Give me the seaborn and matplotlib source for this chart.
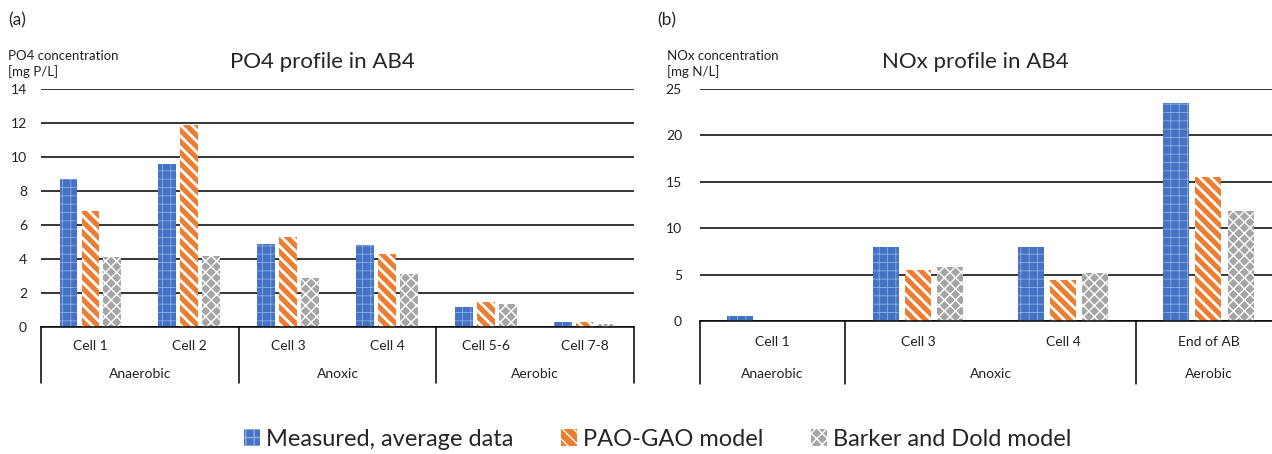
import pandas as pd
import numpy as np
import seaborn as sns
import matplotlib.pyplot as plt
import matplotlib.transforms as mtransforms
from matplotlib.patches import Patch

# Series shared by both panels
series = ['Measured, average data', 'PAO-GAO model', 'Barker and Dold model']
colours = ['#4472C4', '#ED7D31', '#A5A5A5']
hatch_colours = ['#8FAEE3', 'white', 'white']
hatches = ['++', '\\\\\\', 'xxx']
hatch_widths = [0.6, 2.0, 1.0]

# Panel (a): PO4 profile
po4_cells = ['Cell 1', 'Cell 2', 'Cell 3', 'Cell 4', 'Cell 5-6', 'Cell 7-8']
po4_zones = ['Anaerobic', 'Anaerobic', 'Anoxic', 'Anoxic', 'Aerobic', 'Aerobic']
po4_measured = [8.7, 9.6, 4.9, 4.85, 1.15, 0.3]
po4_paogao = [6.8, 11.9, 5.3, 4.3, 1.45, 0.27]
po4_barker = [4.1, 4.15, 2.9, 3.1, 1.35, 0.15]

# Panel (b): NOx profile
nox_cells = ['Cell 1', 'Cell 3', 'Cell 4', 'End of AB']
nox_zones = ['Anaerobic', 'Anoxic', 'Anoxic', 'Aerobic']
nox_measured = [0.5, 8.0, 8.0, 23.5]
nox_paogao = [0.0, 5.5, 4.4, 15.5]
nox_barker = [0.0, 5.85, 5.2, 11.9]

sns.set_style('white')
plt.rcParams['font.family'] = ['Lato', 'DejaVu Sans']
plt.rcParams['hatch.linewidth'] = 1.0

W, H = 1272, 454
fig = plt.figure(figsize=(W / 100, H / 100), dpi=100)


def px_axes(x0, x1, y_top, y_bottom):
    return fig.add_axes([x0 / W, 1 - y_bottom / H, (x1 - x0) / W, (y_bottom - y_top) / H])


def draw_panel(ax, cells, zones, values, ymax, step, sep_px, cell_pad, zone_px, ypad):
    df = pd.DataFrame({
        'cell': np.tile(cells, len(series)),
        'series': np.repeat(series, len(cells)),
        'value': np.concatenate(values),
    })
    sns.barplot(data=df, x='cell', y='value', hue='series', hue_order=series,
                order=cells, palette=colours, saturation=1, width=0.667, gap=0.19,
                ax=ax, legend=False, errorbar=None)

    # Hatch each series like the original Excel fills
    for cont, h, hc, hw in zip(ax.containers, hatches, hatch_colours, hatch_widths):
        for bar in cont:
            bar.set_edgecolor(hc)
            bar.set_linewidth(0)
            bar.set_hatch(h)
            if hasattr(bar, 'set_hatch_linewidth'):
                bar.set_hatch_linewidth(hw)

    n = len(cells)
    ax.set_ylim(0, ymax)
    ax.set_yticks(np.arange(0, ymax + 0.1, step))
    ax.yaxis.grid(True, color='black', linewidth=1.1)
    ax.set_axisbelow(True)
    ax.set_xlabel('')
    ax.set_ylabel('')
    for s in ['left', 'top', 'right']:
        ax.spines[s].set_visible(False)
    ax.spines['bottom'].set_color('black')
    ax.spines['bottom'].set_linewidth(1.1)
    ax.tick_params(axis='y', length=0, pad=ypad, labelsize=10, colors='#222222')
    ax.tick_params(axis='x', length=0, pad=cell_pad, labelsize=10, colors='#222222')

    # Two-level category axis: zone separators and zone labels
    ax_h = ax.get_position().height * H
    trans = mtransforms.blended_transform_factory(ax.transData, ax.transAxes)
    bounds = [-0.5] + [i - 0.5 for i in range(1, n) if zones[i] != zones[i - 1]] + [n - 0.5]
    for b in bounds:
        ax.plot([b, b], [0, -sep_px / ax_h], transform=trans, clip_on=False,
                color='black', linewidth=1.1)
    for z in dict.fromkeys(zones):
        idx = [i for i, zz in enumerate(zones) if zz == z]
        ax.text(np.mean(idx), -zone_px / ax_h, z, transform=trans, ha='center',
                va='center', fontsize=10, color='#222222')
    ax.set_xlim(-0.5, n - 0.5)


ax1 = px_axes(41, 634, 89, 327)
draw_panel(ax1, po4_cells, po4_zones, [po4_measured, po4_paogao, po4_barker],
           14, 2, 56, 9, 47, 10)

ax2 = px_axes(700, 1281, 89, 321)
draw_panel(ax2, nox_cells, nox_zones, [nox_measured, nox_paogao, nox_barker],
           25, 5, 63, 10.5, 53, 13)

# Titles, panel letters and axis captions
fig.text(322 / W, 1 - 62 / H, 'PO4 profile in AB4', ha='center', va='center', fontsize=16)
fig.text(975 / W, 1 - 62 / H, 'NOx profile in AB4', ha='center', va='center', fontsize=16)
fig.text(8 / W, 1 - 20 / H, '(a)', ha='left', va='center', fontsize=12.5)
fig.text(657 / W, 1 - 20 / H, '(b)', ha='left', va='center', fontsize=12.5)
fig.text(8 / W, 1 - 64 / H, 'PO4 concentration\n[mg P/L]', ha='left', va='center',
         fontsize=9.5, linespacing=1.3, color='#222222')
fig.text(667 / W, 1 - 64 / H, 'NOx concentration\n[mg N/L]', ha='left', va='center',
         fontsize=9.5, linespacing=1.3, color='#222222')

handles = [Patch(facecolor=c, edgecolor=hc, hatch=h, linewidth=0)
           for c, hc, h in zip(colours, hatch_colours, hatches)]
fig.legend(handles, series, loc='center', bbox_to_anchor=(657.5 / W, 1 - 439 / H),
           ncol=3, frameon=False, fontsize=17, handlelength=0.7, handleheight=0.7,
           handletextpad=0.25, columnspacing=2.0, borderpad=0.2)

fig.savefig('out.png', dpi=100)
